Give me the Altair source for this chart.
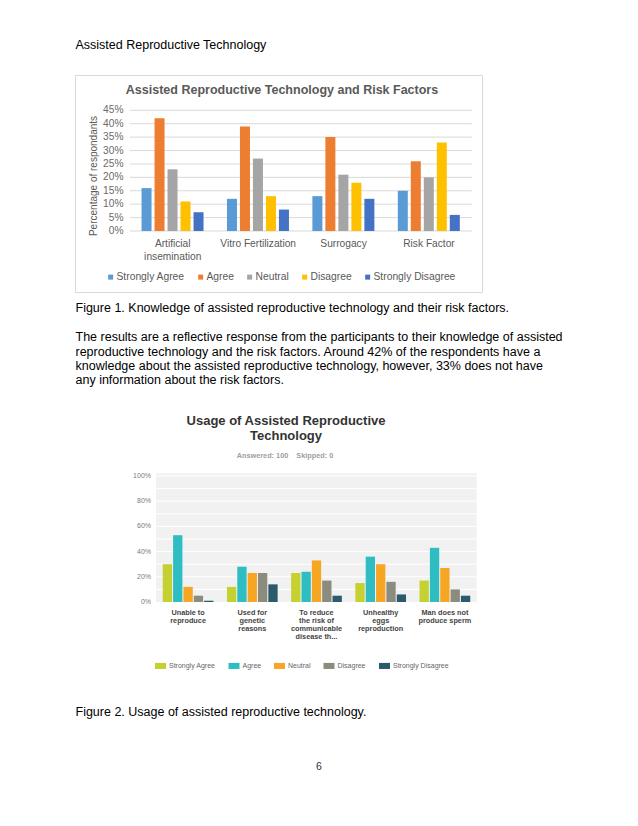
import altair as alt
import pandas as pd

M = 8  # page margin of the html body
FONT = "Liberation Sans"

# ---------------- data ----------------
page_header = "Assisted Reproductive Technology"
fig1_title = "Assisted Reproductive Technology and Risk Factors"
fig1_caption = "Figure 1. Knowledge of assisted reproductive technology and their risk factors."
paragraph = [
    "The results are a reflective response from the participants to their knowledge of assisted",
    "reproductive technology and the risk factors. Around 42% of the respondents have a",
    "knowledge about the assisted reproductive technology, however, 33% does not have",
    "any information about the risk factors.",
]
fig2_title = ["Usage of Assisted Reproductive", "Technology"]
fig2_sub = "Answered: 100\u00a0\u00a0\u00a0\u00a0Skipped: 0"
fig2_caption = "Figure 2. Usage of assisted reproductive technology."
page_number = "6"
y_title1 = "Percentage of respondants"

responses = ["Strongly Agree", "Agree", "Neutral", "Disagree", "Strongly Disagree"]

cats1 = ["Artificial\ninsemination", "Vitro Fertilization", "Surrogacy", "Risk Factor"]
strongly_agree1 = [16, 12, 13, 15]
agree1 = [42, 39, 35, 26]
neutral1 = [23, 27, 21, 20]
disagree1 = [11, 13, 18, 33]
strongly_disagree1 = [7, 8, 12, 6]
ticks1 = [0, 5, 10, 15, 20, 25, 30, 35, 40, 45]
tick_labels1 = ["0%", "5%", "10%", "15%", "20%", "25%", "30%", "35%", "40%", "45%"]

cats2 = ["Unable to\nreproduce", "Used for\ngenetic\nreasons",
         "To reduce\nthe risk of\ncommunicable\ndisease th...",
         "Unhealthy\neggs\nreproduction", "Man does not\nproduce sperm"]
strongly_agree2 = [30, 12, 23, 15, 17]
agree2 = [53, 28, 24, 36, 43]
neutral2 = [12, 23, 33, 30, 27]
disagree2 = [5, 23, 17, 16, 10]
strongly_disagree2 = [1, 14, 5, 6, 5]
ticks2 = [0, 20, 40, 60, 80, 100]
tick_labels2 = ["0%", "20%", "40%", "60%", "80%", "100%"]
grid2 = [10, 20, 30, 40, 50, 60, 70, 80, 90, 100]

colors1 = ["#5B9BD5", "#ED7D31", "#A5A5A5", "#FFC000", "#4472C4"]
colors2 = ["#C5D131", "#2EBDC3", "#F7A623", "#8B8C7E", "#2A5A6B"]

# ---------------- tables ----------------
def long_table(cats, series):
    rows = []
    for name, vals in zip(responses, series):
        for c, v in zip(cats, vals):
            rows.append({"cat": c, "resp": name, "v": v})
    return pd.DataFrame(rows)

df1 = long_table(cats1, [strongly_agree1, agree1, neutral1, disagree1, strongly_disagree1])
df2 = long_table(cats2, [strongly_agree2, agree2, neutral2, disagree2, strongly_disagree2])
t1 = pd.DataFrame({"v": ticks1, "lab": tick_labels1})
t2 = pd.DataFrame({"v": ticks2, "lab": tick_labels2})
g2 = pd.DataFrame({"v": grid2})
c1df = pd.DataFrame({"cat": cats1})
c2df = pd.DataFrame({"cat": cats2})

def P(v):
    return v - M

# ---------------- scales (page layout) ----------------
x1 = alt.Scale(domain=cats1, range=[P(130), P(471.7)], paddingInner=0.27, paddingOuter=0.135)
xo1 = alt.Scale(domain=responses, range=[0, 62], paddingInner=0.23, paddingOuter=0)
y1 = alt.Scale(domain=[0, 45], range=[P(231), P(110.3)], nice=False, zero=False)

x2 = alt.Scale(domain=cats2, range=[P(156), P(477)], paddingInner=0.21, paddingOuter=0.105)
xo2 = alt.Scale(domain=responses, range=[0, 50.7], paddingInner=0.1, paddingOuter=0)
y2 = alt.Scale(domain=[0, 100], range=[P(602), P(476)], nice=False, zero=False)


def txt(s, x, y, size=12.5, color="#000000", align="left", weight="normal", angle=0):
    kw = dict(text=s, align=align, baseline="middle", font=FONT,
              fontSize=size, color=color, fontWeight=weight)
    if angle:
        kw["angle"] = angle
    return alt.Chart().mark_text(**kw).encode(x=alt.value(P(x)), y=alt.value(P(y)))


layers = []

# page text
layers.append(txt(page_header, 75.5, 45))
layers.append(txt(fig1_caption, 75.5, 308.3))
for i, line in enumerate(paragraph):
    layers.append(txt(line, 75.5, [337.3, 351.7, 365.9, 380.2][i]))
layers.append(txt(fig2_caption, 75.5, 712.3))
layers.append(txt(page_number, 319, 767.3, size=10.5, color="#333333", align="center"))

# ---------- chart 1 ----------
layers.append(
    alt.Chart().mark_rect(fillOpacity=0, stroke="#D9D9D9", strokeWidth=1).encode(
        x=alt.value(P(75.5)), x2=alt.value(P(482.5)), y=alt.value(P(75.5)), y2=alt.value(P(292.5)))
)
layers.append(txt(fig1_title, 282, 90, size=12.5, color="#595959", align="center", weight="bold"))

layers.append(
    alt.Chart(t1).mark_rule(color="#D9D9D9", strokeWidth=1).encode(
        y=alt.Y("v:Q", scale=y1, axis=None), x=alt.value(P(130)), x2=alt.value(P(471.7)))
)
layers.append(
    alt.Chart(t1).mark_text(align="right", baseline="middle", font=FONT, fontSize=10.2,
                            color="#6A6A6A").encode(
        y=alt.Y("v:Q", scale=y1, axis=None), x=alt.value(P(123.5)), text="lab:N")
)
layers.append(txt(y_title1, 93.5, 176, size=10, color="#595959", align="center", angle=270))

layers.append(
    alt.Chart(df1).mark_bar().encode(
        x=alt.X("cat:N", scale=x1, axis=None, sort=cats1),
        xOffset=alt.XOffset("resp:N", scale=xo1, sort=responses),
        y=alt.Y("v:Q", scale=y1, axis=None),
        color=alt.Color("resp:N", scale=alt.Scale(domain=responses, range=colors1), sort=responses,
                        legend=alt.Legend(orient="none", direction="horizontal", legendX=P(105.5),
                                          legendY=P(271.7), title=None, symbolType="square",
                                          symbolSize=25, symbolStrokeWidth=0, labelFont=FONT,
                                          labelFontSize=10.3, labelColor="#595959", columnPadding=10,
                                          labelOffset=0.7, padding=0, labelLimit=0)),
    )
)
layers.append(
    alt.Chart(c1df).mark_text(align="center", baseline="top", font=FONT, fontSize=10.2,
                              color="#595959", lineBreak="\n", lineHeight=12.7).encode(
        x=alt.X("cat:N", scale=x1, axis=None, sort=cats1), y=alt.value(P(239.2)), text="cat:N")
)

# ---------- chart 2 ----------
layers.append(txt(fig2_title[0], 286, 420.7, size=13, color="#333333", align="center", weight="bold"))
layers.append(txt(fig2_title[1], 286, 436.3, size=13, color="#333333", align="center", weight="bold"))
layers.append(txt(fig2_sub, 285, 456, size=7.3, color="#A0A0A0", align="center", weight="bold"))

layers.append(
    alt.Chart().mark_rect(fill="#F1F1F1").encode(
        x=alt.value(P(156)), x2=alt.value(P(476.7)), y=alt.value(P(473.3)), y2=alt.value(P(602)))
)
layers.append(
    alt.Chart(g2).mark_rule(color="#FFFFFF", strokeWidth=1).encode(
        y=alt.Y("v:Q", scale=y2, axis=None), x=alt.value(P(156)), x2=alt.value(P(476.7)))
)
layers.append(
    alt.Chart(t2).mark_text(align="right", baseline="middle", font=FONT, fontSize=7,
                            color="#7A7A7A").encode(
        y=alt.Y("v:Q", scale=y2, axis=None), x=alt.value(P(151)), text="lab:N")
)
layers.append(
    alt.Chart(df2).mark_bar().encode(
        x=alt.X("cat:N", scale=x2, axis=None, sort=cats2),
        xOffset=alt.XOffset("resp:N", scale=xo2, sort=responses),
        y=alt.Y("v:Q", scale=y2, axis=None),
        color=alt.Color("resp:N", scale=alt.Scale(domain=responses, range=colors2), sort=responses,
                        legend=alt.Legend(orient="none", direction="horizontal", legendX=P(155),
                                          legendY=P(660.2), title=None,
                                          symbolType="M-1,-0.55L1,-0.55L1,0.55L-1,0.55Z",
                                          symbolSize=121, symbolStrokeWidth=0, labelFont=FONT,
                                          labelFontSize=7, labelColor="#666666", columnPadding=12.5,
                                          labelOffset=3, padding=0, labelLimit=0)),
    )
)
layers.append(
    alt.Chart(c2df).mark_text(align="center", baseline="top", font=FONT, fontSize=7.3,
                              fontWeight="bold", color="#444444", lineBreak="\n",
                              lineHeight=8.1).encode(
        x=alt.X("cat:N", scale=x2, axis=None, sort=cats2), y=alt.value(P(609.2)), text="cat:N")
)

chart = (
    alt.layer(*layers)
    .resolve_scale(x="independent", y="independent", color="independent", xOffset="independent")
    .resolve_legend(color="independent")
    .properties(width=600, height=790, padding=0, autosize=alt.AutoSizeParams(type="none"),
                background="#FFFFFF")
    .configure(font=FONT)
    .configure_view(strokeWidth=0, stroke="transparent")
)

chart.save("out.html", embed_options={"renderer": "svg", "actions": False})
